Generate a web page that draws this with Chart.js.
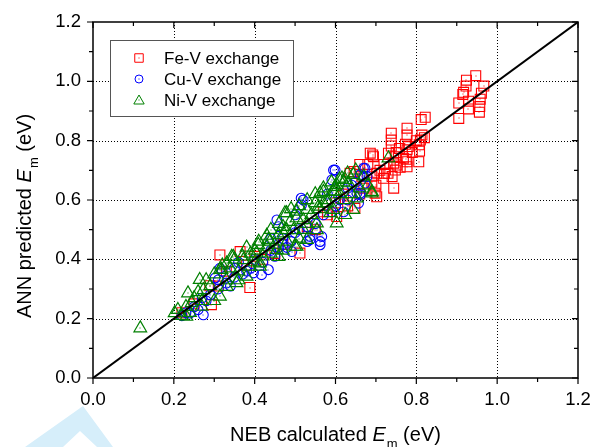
<!DOCTYPE html>
<html><head><meta charset="utf-8">
<script src="https://cdn.jsdelivr.net/npm/chart.js@4/dist/chart.umd.min.js"></script>
<style>html,body{margin:0;padding:0;background:#fff}#wrap{position:relative;width:594px;height:447px}</style>
</head><body><div id="wrap"><canvas id="c" width="594" height="447"></canvas></div>
<script>
// Fe-V exchange (red squares)
const feX=[0.947,0.924,0.923,0.967,0.917,0.915,0.961,0.905,0.929,0.958,0.929,0.957,0.956,0.905,0.822,0.812,0.777,0.777,0.814,0.810,0.807,0.773,0.808,0.777,0.775,0.806,0.738,0.738,0.738,0.758,0.686,0.692,0.731,0.748,0.768,0.777,0.752,0.748,0.777,0.721,0.740,0.702,0.719,0.744,0.698,0.702,0.636,0.694,0.744,0.646,0.603,0.648,0.512,0.314,0.364,0.388,0.289,0.293,0.620,0.580,0.550,0.450,0.420,0.330,0.250,0.220,0.680,0.665,0.670,0.790,0.690,0.710,0.660,0.400,0.470,0.530,0.570,0.600,0.630,0.660,0.690,0.720,0.750,0.780,0.760,0.730,0.800,0.820,0.700,0.380,0.310];
const feY=[1.019,1.004,0.984,0.984,0.963,0.956,0.960,0.927,0.933,0.940,0.907,0.915,0.896,0.875,0.879,0.871,0.842,0.819,0.819,0.802,0.786,0.788,0.765,0.769,0.737,0.729,0.825,0.802,0.782,0.774,0.758,0.752,0.758,0.746,0.741,0.729,0.718,0.701,0.712,0.690,0.679,0.690,0.673,0.640,0.623,0.611,0.690,0.746,0.724,0.696,0.544,0.572,0.421,0.415,0.426,0.305,0.311,0.247,0.620,0.550,0.500,0.420,0.400,0.360,0.250,0.220,0.720,0.680,0.640,0.760,0.660,0.700,0.720,0.410,0.450,0.510,0.560,0.590,0.580,0.620,0.680,0.720,0.760,0.780,0.710,0.690,0.800,0.810,0.650,0.380,0.310];
// Cu-V exchange (blue circles)
const cuX=[0.595,0.591,0.673,0.678,0.653,0.657,0.520,0.516,0.455,0.459,0.537,0.566,0.562,0.492,0.434,0.397,0.314,0.302,0.537,0.562,0.417,0.310,0.273,0.240,0.661,0.599,0.669,0.661,0.673,0.661,0.515,0.480,0.360,0.270,0.250,0.330,0.400,0.440,0.500,0.550,0.600,0.630,0.580,0.470,0.380,0.290,0.640,0.220,0.350,0.620,0.230,0.260,0.280,0.310,0.340,0.370,0.390,0.420,0.450,0.470,0.490,0.510,0.530,0.570,0.590,0.610,0.630,0.650,0.670,0.530,0.460,0.500,0.440,0.320,0.350];
const cuY=[0.701,0.668,0.707,0.679,0.623,0.589,0.600,0.583,0.533,0.510,0.477,0.477,0.449,0.426,0.365,0.354,0.370,0.337,0.466,0.460,0.348,0.331,0.213,0.219,0.623,0.701,0.707,0.685,0.657,0.617,0.606,0.440,0.390,0.270,0.240,0.320,0.400,0.430,0.490,0.520,0.580,0.600,0.620,0.470,0.360,0.280,0.650,0.210,0.340,0.560,0.220,0.230,0.260,0.300,0.310,0.350,0.370,0.390,0.410,0.450,0.460,0.500,0.510,0.550,0.560,0.600,0.640,0.660,0.680,0.460,0.440,0.550,0.470,0.360,0.370];
// Ni-V exchange (green triangles)
const niX=[0.117,0.202,0.231,0.235,0.264,0.273,0.269,0.244,0.314,0.314,0.331,0.347,0.372,0.355,0.331,0.388,0.413,0.380,0.405,0.430,0.438,0.455,0.459,0.471,0.479,0.488,0.496,0.504,0.520,0.529,0.500,0.562,0.570,0.587,0.603,0.620,0.624,0.603,0.644,0.690,0.554,0.731,0.690,0.632,0.595,0.570,0.558,0.529,0.504,0.475,0.479,0.554,0.504,0.434,0.459,0.409,0.413,0.343,0.318,0.595,0.616,0.644,0.653,0.624,0.599,0.210,0.250,0.290,0.300,0.360,0.390,0.420,0.450,0.470,0.520,0.540,0.580,0.610,0.660,0.550,0.510,0.220,0.240,0.260,0.280,0.300,0.320,0.340,0.350,0.370,0.380,0.400,0.410,0.430,0.440,0.460,0.470,0.490,0.510,0.530,0.550,0.570,0.590,0.610,0.630,0.650,0.620,0.600,0.580,0.560,0.530,0.480,0.440,0.400,0.360,0.330,0.270,0.230,0.670,0.640,0.680];
const niY=[0.168,0.219,0.207,0.286,0.331,0.297,0.241,0.253,0.365,0.275,0.387,0.409,0.398,0.320,0.308,0.376,0.376,0.342,0.421,0.443,0.460,0.432,0.409,0.488,0.556,0.527,0.499,0.561,0.533,0.466,0.443,0.623,0.589,0.556,0.651,0.600,0.550,0.522,0.567,0.623,0.522,0.741,0.628,0.657,0.628,0.628,0.578,0.567,0.539,0.556,0.499,0.499,0.443,0.466,0.482,0.449,0.387,0.409,0.365,0.567,0.673,0.685,0.606,0.668,0.645,0.230,0.270,0.310,0.260,0.360,0.420,0.410,0.450,0.430,0.500,0.550,0.600,0.620,0.640,0.590,0.470,0.210,0.220,0.290,0.330,0.350,0.380,0.370,0.400,0.410,0.440,0.430,0.460,0.480,0.500,0.520,0.510,0.570,0.580,0.600,0.620,0.640,0.660,0.670,0.690,0.700,0.660,0.630,0.590,0.570,0.520,0.460,0.420,0.390,0.330,0.330,0.260,0.240,0.680,0.620,0.650];
// y = x reference line
const diagX=[0,1.2];
const diagY=[0,1.2];
const axisTicks=[0,0.2,0.4,0.6,0.8,1.0,1.2];
const seriesNames=['Fe-V exchange','Cu-V exchange','Ni-V exchange'];

const toPts=(xs,ys)=>xs.map((x,i)=>({x:x,y:ys[i]}));
const RED='#ff0000',BLUE='#0000ff',GREEN='#008000';
const FONT='"Liberation Sans", Arial, Helvetica, sans-serif';

function drawMarker(ctx,style,x,y,r,color){
  ctx.save();ctx.strokeStyle=color;ctx.lineWidth=1;ctx.beginPath();
  if(style==='rect'){const s=r/Math.SQRT2;ctx.rect(x-s,y-s,2*s,2*s);}
  else if(style==='circle'){ctx.arc(x,y,r,0,Math.PI*2);}
  else{for(let k=0;k<3;k++){const a=k*2*Math.PI/3;const px=x+Math.sin(a)*r,py=y-Math.cos(a)*r;k?ctx.lineTo(px,py):ctx.moveTo(px,py);}ctx.closePath();}
  ctx.stroke();ctx.restore();
}

const decor={
  id:'decor',
  beforeDatasetsDraw(chart){
    const {ctx,chartArea:a,scales:{x,y}}=chart;
    ctx.save();ctx.strokeStyle='#000';ctx.lineWidth=1;ctx.setLineDash([1,2]);
    axisTicks.slice(1,-1).forEach(v=>{
      const px=Math.round(x.getPixelForValue(v))+0.5;
      ctx.beginPath();ctx.moveTo(px,a.top);ctx.lineTo(px,a.bottom);ctx.stroke();
      const py=Math.round(y.getPixelForValue(v))+0.5;
      ctx.beginPath();ctx.moveTo(a.left,py);ctx.lineTo(a.right,py);ctx.stroke();
    });
    ctx.restore();
  },
  afterDatasetsDraw(chart){
    const {ctx,chartArea:a,scales:{x,y}}=chart;
    const dots=[[feX,feY,RED],[cuX,cuY,BLUE],[niX,niY,GREEN]];
    ctx.save();
    dots.forEach(([xs,ys,c])=>{ctx.fillStyle=c;xs.forEach((v,i)=>{ctx.fillRect(Math.round(x.getPixelForValue(v))-0.5,Math.round(y.getPixelForValue(ys[i]))-0.5,1,1);});});
    ctx.restore();
    ctx.save();ctx.strokeStyle='#000';ctx.lineWidth=1.5;
    ctx.strokeRect(a.left,a.top,a.right-a.left,a.bottom-a.top);
    ctx.lineWidth=1.2;
    for(let i=0;i<=12;i++){
      const v=i/10,maj=i%2===0,L=maj?6:4;
      const px=x.getPixelForValue(v),py=y.getPixelForValue(v);
      ctx.beginPath();
      ctx.moveTo(px,a.bottom);ctx.lineTo(px,a.bottom+L);
      ctx.moveTo(px,a.top);ctx.lineTo(px,a.top+L);
      ctx.moveTo(a.left,py);ctx.lineTo(a.left-L,py);
      ctx.moveTo(a.right,py);ctx.lineTo(a.right-L,py);
      ctx.stroke();
    }
    ctx.restore();
    ctx.save();
    ctx.strokeStyle='#555';ctx.lineWidth=1;ctx.fillStyle='#fff';
    ctx.fillRect(110.5,40.5,183,76);ctx.strokeRect(110.5,40.5,183,76);
    const st=[['rect',RED,6],['circle',BLUE,4],['triangle',GREEN,6]];
    ctx.font='17px '+FONT;ctx.fillStyle='#000';ctx.textBaseline='alphabetic';ctx.textAlign='left';
    st.forEach((s,i)=>{const yy=58+i*21;drawMarker(ctx,s[0],139,yy+(s[0]==='triangle'?1:0),s[2],s[1]);ctx.fillStyle=s[1];ctx.fillRect(138.5,yy-0.5,1,1);ctx.fillStyle='#000';ctx.fillText(seriesNames[i],164,yy+6);});
    ctx.restore();
    const parts=[['NEB calculated ','n'],['E','i'],['m','s'],[' (eV)','n']];
    const fs=20,ss=13;
    function measure(){let w=0;parts.forEach(p=>{ctx.font=(p[1]==='i'?'italic ':'')+(p[1]==='s'?ss:fs)+'px '+FONT;w+=ctx.measureText(p[0]).width+(p[1]==='s'?1:0);});return w;}
    function drawParts(x0,y0){let cx=x0;parts.forEach(p=>{ctx.font=(p[1]==='i'?'italic ':'')+(p[1]==='s'?ss:fs)+'px '+FONT;ctx.fillText(p[0],cx+(p[1]==='s'?1:0),y0+(p[1]==='s'?7:0));cx+=ctx.measureText(p[0]).width+(p[1]==='s'?1:0);});}
    ctx.save();ctx.fillStyle='#000';ctx.textAlign='left';ctx.textBaseline='alphabetic';
    let w=measure();
    drawParts((a.left+a.right)/2-w/2,441);
    parts[0][0]='ANN predicted ';
    w=measure();
    ctx.translate(31,216);ctx.rotate(-Math.PI/2);
    drawParts(-w/2,0);
    ctx.restore();
    ctx.save();ctx.fillStyle='#d6eefa';ctx.beginPath();
    ctx.moveTo(83,406);ctx.lineTo(113,447);ctx.lineTo(25,447);ctx.closePath();
    ctx.moveTo(80,431);ctx.lineTo(63,447);ctx.lineTo(97,447);ctx.closePath();
    ctx.fill('evenodd');ctx.restore();
  }
};

new Chart(document.getElementById('c'),{
  type:'scatter',
  data:{datasets:[
    {label:'y=x',data:toPts(diagX,diagY),showLine:true,borderColor:'#000',borderWidth:2,pointRadius:0,order:0},
    {label:seriesNames[2],data:toPts(niX,niY),pointStyle:'triangle',pointRadius:7.3,borderColor:GREEN,backgroundColor:'rgba(0,0,0,0)',borderWidth:1.2,order:1},
    {label:seriesNames[1],data:toPts(cuX,cuY),pointStyle:'circle',pointRadius:4.9,borderColor:BLUE,backgroundColor:'rgba(0,0,0,0)',borderWidth:1.1,order:2},
    {label:seriesNames[0],data:toPts(feX,feY),pointStyle:'rect',pointRadius:7,borderColor:RED,backgroundColor:'rgba(0,0,0,0)',borderWidth:1.1,order:3}
  ]},
  options:{
    responsive:false,animation:false,devicePixelRatio:1,
    layout:{padding:{left:0,right:16,top:22,bottom:0}},
    plugins:{legend:{display:false},tooltip:{enabled:false}},
    scales:{
      x:{type:'linear',min:0,max:1.2,afterBuildTicks:s=>{s.ticks=axisTicks.map(v=>({value:v}));},
        grid:{display:false,drawTicks:false},border:{display:false},
        ticks:{padding:11,color:'#000',font:{size:18.5,family:FONT},callback:v=>Number(v).toFixed(1)},
        afterFit:s=>{s.height=69;s.paddingLeft=0;s.paddingRight=0;}},
      y:{type:'linear',min:0,max:1.2,afterBuildTicks:s=>{s.ticks=axisTicks.map(v=>({value:v}));},
        grid:{display:false,drawTicks:false},border:{display:false},
        ticks:{padding:12,color:'#000',font:{size:18.5,family:FONT},callback:v=>Number(v).toFixed(1)},
        afterFit:s=>{s.width=93;s.paddingTop=0;s.paddingBottom=0;}}
    }
  },
  plugins:[decor]
});
</script></body></html>
